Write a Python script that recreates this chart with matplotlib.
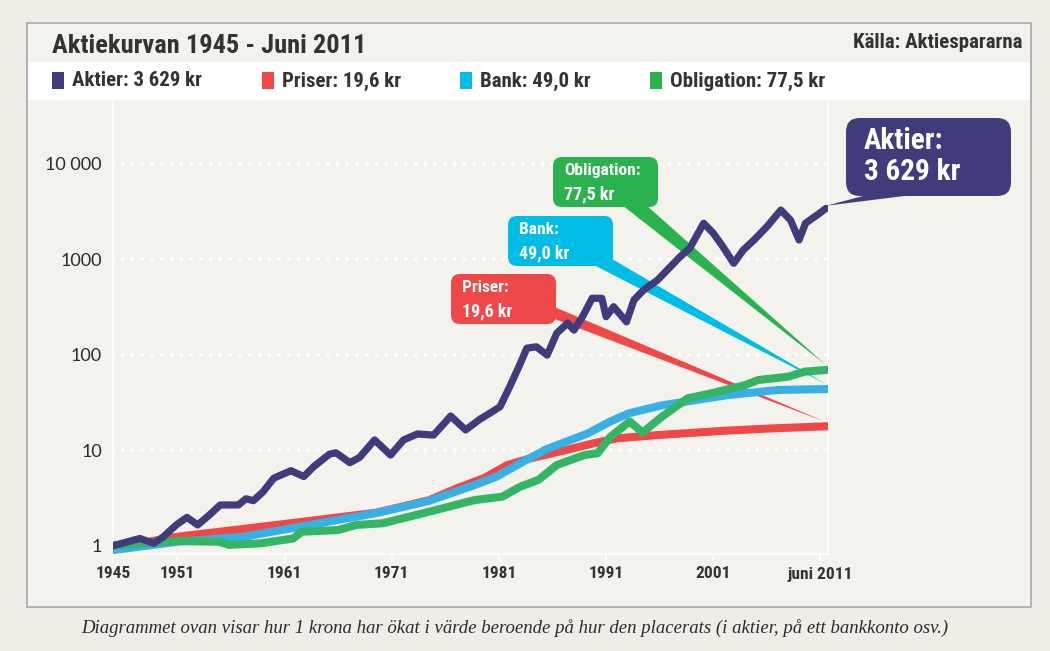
import matplotlib
matplotlib.use('Agg')
import matplotlib.pyplot as plt
from matplotlib import font_manager as fm
from matplotlib.patches import Rectangle, FancyBboxPatch, Polygon

# Data (value of 1 krona invested 1945)
aktier_years = [1945.0, 1947.5, 1948.8, 1949.7, 1950.9, 1951.9, 1952.9, 1954.0, 1955.0, 1956.7,
                1957.4, 1958.1, 1959.0, 1960.0, 1961.6, 1962.8, 1963.7, 1965.2, 1965.8, 1967.1,
                1968.0, 1969.4, 1970.9, 1972.1, 1973.4, 1974.9, 1975.9, 1976.5, 1977.9, 1979.2,
                1980.3, 1981.1, 1982.0, 1983.0, 1983.6, 1984.5, 1985.5, 1986.4, 1987.4, 1988.0,
                1988.8, 1989.7, 1990.6, 1991.0, 1991.7, 1992.9, 1993.6, 1994.5, 1995.8, 1996.7,
                1997.9, 1998.8, 2000.1, 2001.0, 2001.9, 2002.9, 2003.8, 2004.8, 2006.0, 2007.3,
                2008.2, 2009.0, 2009.6, 2010.9, 2011.5]
aktier = [1.0, 1.19, 1.06, 1.24, 1.65, 1.98, 1.65, 2.1, 2.67, 2.67,
          3.1, 2.96, 3.67, 5.1, 6.1, 5.3, 6.7, 9.1, 9.4, 7.4,
          8.4, 12.8, 8.9, 12.8, 14.8, 14.4, 19.1, 22.8, 16.3, 21,
          25, 28.5, 46, 81, 117, 121, 99, 168, 214, 181,
          250, 390, 390, 250, 318, 221, 374, 475, 605, 770,
          1060, 1300, 2380, 1870, 1350, 906, 1250, 1590, 2190, 3270,
          2570, 1590, 2380, 3020, 3400]

priser_years = [1945.0, 1951.0, 1957.2, 1963.4, 1969.6, 1974.5, 1977.1, 1979.6, 1981.8,
                1983.9, 1987.2, 1989.8, 1992.0, 1995.8, 2002.1, 2006.4, 2011.5]
priser = [0.95, 1.24, 1.5, 1.82, 2.22, 3.0, 4.0, 5.1, 7.0,
          8.2, 10.0, 11.8, 13.3, 14.4, 16.0, 16.9, 17.8]

bank_years = [1945.0, 1951.0, 1957.2, 1963.4, 1969.6, 1974.5, 1978.7, 1980.8, 1983.0,
              1985.4, 1989.3, 1991.4, 1993.1, 1996.2, 2002.4, 2007.0, 2011.5]
bank = [0.9, 1.1, 1.24, 1.65, 2.2, 2.95, 4.3, 5.3, 7.3,
        10.2, 15, 20, 24.3, 29.5, 37.8, 42.7, 43.7]

oblig_years = [1945.0, 1951.0, 1954.9, 1955.8, 1958.8, 1961.8, 1962.6, 1966.0, 1967.7, 1970.2,
               1974.5, 1978.7, 1981.3, 1983.0, 1984.7, 1986.4, 1989.0, 1990.2, 1991.4, 1993.2,
               1994.4, 1996.2, 1998.6, 2000.8, 2004.0, 2005.2, 2008.0, 2009.5, 2011.5]
oblig = [1.0, 1.12, 1.1, 1.02, 1.06, 1.19, 1.4, 1.46, 1.65, 1.72,
         2.27, 3.0, 3.26, 4.15, 4.9, 7.0, 8.9, 9.3, 13.8, 20,
         15.3, 22.4, 34.9, 39.4, 48.2, 54.3, 58.9, 66.4, 69.2]

# final values shown in legend / callouts
final_values = {'Aktier': 3629, 'Priser': 19.6, 'Bank': 49.0, 'Obligation': 77.5}
legend_labels = ['Aktier: 3 629 kr', 'Priser: 19,6 kr', 'Bank: 49,0 kr', 'Obligation: 77,5 kr']

xtick_pos = [1945, 1951, 1961, 1971, 1981, 1991, 2001, 2011]
xtick_labels = ['1945', '1951', '1961', '1971', '1981', '1991', '2001', 'juni 2011']
ytick_pos = [1, 10, 100, 1000, 10000]
ytick_labels = ['1', '10', '100', '1000', '10 000']

# colours
c_aktier = '#403c7c'
c_priser = '#ee4848'
c_bank = '#38b0e4'
c_oblig = '#34b566'
c_bank_box = '#00bde6'
c_oblig_box = '#2ab24f'
c_text = '#333333'


def pick_font(*names):
    for n in names:
        try:
            fm.findfont(fm.FontProperties(family=n), fallback_to_default=False)
            return n
        except ValueError:
            pass
    return 'DejaVu Sans'


narrow = pick_font('Liberation Sans Narrow', 'Roboto Condensed', 'Roboto')
humanist = pick_font('Lato', 'Open Sans', 'DejaVu Sans')
serif = pick_font('Liberation Serif', 'DejaVu Serif')

W, H = 1050, 651
fig = plt.figure(figsize=(W / 100, H / 100), dpi=100)
fig.patch.set_facecolor('#efede6')

# background decoration in pixel coordinates
deco = fig.add_axes([0, 0, 1, 1], zorder=0)
deco.set_xlim(0, W)
deco.set_ylim(H, 0)
deco.axis('off')
deco.add_patch(Rectangle((27, 23), 1004, 584, facecolor='#f4f2ec', edgecolor='#a8a8a8', lw=1.2))
deco.add_patch(Rectangle((28, 62), 1002, 38, facecolor='white', edgecolor='none'))

deco.text(52, 46, 'Aktiekurvan 1945 - Juni 2011', family=narrow, weight='bold',
          fontsize=19, color=c_text, va='center', ha='left')
deco.text(1022, 42, 'Källa: Aktiespararna', family=narrow, weight='bold',
          fontsize=15, color=c_text, va='center', ha='right')

legend_x = [52, 262, 460, 650]
legend_cols = [c_aktier, c_priser, c_bank_box, c_oblig_box]
for lx, lab, col in zip(legend_x, legend_labels, legend_cols):
    deco.add_patch(Rectangle((lx, 72), 12, 17, facecolor=col, edgecolor='none'))
    deco.text(lx + 20, 81, lab, family=narrow, weight='bold', fontsize=15, color=c_text,
              va='center', ha='left')

deco.text(515, 628, 'Diagrammet ovan visar hur 1 krona har ökat i värde beroende på hur den '
          'placerats (i aktier, på ett bankkonto osv.)', family=serif, style='italic',
          fontsize=13.5, color='#2a2a2a', ha='center', va='center')

# main chart
ax = fig.add_axes([113 / W, 97 / H, 715 / W, 454 / H], zorder=1)
ax.patch.set_alpha(0)
ax.set_yscale('log')
ax.set_xlim(1945, 2011.7)
ax.set_ylim(0.8187, 46450)

for g in [10, 100, 1000, 10000]:
    ax.axhline(g, color='white', lw=2.8, linestyle=(0, (0.01, 2.5)),
               dash_capstyle='round', zorder=1)

ax.plot(priser_years, priser, color=c_priser, lw=5.8, solid_joinstyle='round', zorder=3)
ax.plot(bank_years, bank, color=c_bank, lw=5.8, solid_joinstyle='round', zorder=4)
ax.plot(oblig_years, oblig, color=c_oblig, lw=5.8, solid_joinstyle='round', zorder=5)
ax.plot(aktier_years, aktier, color=c_aktier, lw=5.2, solid_joinstyle='round',
        solid_capstyle='round', zorder=6)

ax.spines['top'].set_visible(False)
for s in ['left', 'right', 'bottom']:
    ax.spines[s].set_color('white')
    ax.spines[s].set_linewidth(1.3)

ax.set_xticks(xtick_pos)
ax.set_xticklabels(xtick_labels, family=narrow, weight='bold', fontsize=12.5, color=c_text)
ax.tick_params(axis='x', colors='white', length=5, width=1.2, pad=4, labelcolor=c_text)
ax.set_yticks(ytick_pos)
ax.set_yticklabels(ytick_labels, family=humanist, fontsize=13, color='#2a2a2a')
ax.yaxis.set_minor_locator(matplotlib.ticker.NullLocator())
ax.tick_params(axis='y', length=0, pad=8)

# pixel transform for callouts (same as deco data coordinates)
px = deco.transData


def data_to_px(x, y):
    dx, dy = ax.transData.transform((x, y))
    return deco.transData.inverted().transform((dx, dy))


end_year = 2011.55
callouts = [
    # label, value text, box (x, y, w, h), wedge base, colour, final key
    ('Obligation:', '77,5 kr', (553, 157, 105, 50), [(622, 205), (646, 205)], c_oblig_box, 'Obligation'),
    ('Bank:', '49,0 kr', (508, 216, 105, 50), [(590, 263), (612, 259)], c_bank_box, 'Bank'),
    ('Priser:', '19,6 kr', (451, 274, 105, 50), [(552, 306), (552, 318)], c_priser, 'Priser'),
]
for title, val, (bx, by, bw, bh), base, col, key in callouts:
    tip = data_to_px(end_year, final_values[key])
    ax.add_patch(Polygon([base[0], base[1], tuple(tip)], closed=True, facecolor=col,
                         edgecolor='none', transform=px, clip_on=False, zorder=2))
    ax.add_patch(FancyBboxPatch((bx, by), bw, bh, boxstyle='round,pad=0,rounding_size=9',
                                facecolor=col, edgecolor='none', transform=px,
                                clip_on=False, zorder=7))
    ax.text(bx + 11, by + 14, title, family=narrow, weight='bold', fontsize=12.5,
            color='white', transform=px, va='center', ha='left', zorder=8)
    ax.text(bx + 11, by + 37, val, family=narrow, weight='bold', fontsize=13,
            color='white', transform=px, va='center', ha='left', zorder=8)

# Aktier callout (outside the plot area)
tip = data_to_px(end_year, final_values['Aktier'])
ax.add_patch(Polygon([(878, 192), (936, 192), tuple(tip)], closed=True, facecolor=c_aktier,
                     edgecolor='none', transform=px, clip_on=False, zorder=7))
ax.add_patch(FancyBboxPatch((846, 118), 165, 78, boxstyle='round,pad=0,rounding_size=14',
                            facecolor=c_aktier, edgecolor='none', transform=px,
                            clip_on=False, zorder=7))
ax.text(864, 141, 'Aktier:', family=narrow, weight='bold', fontsize=21, color='white',
        transform=px, va='center', ha='left', zorder=8)
ax.text(864, 172, '3 629 kr', family=narrow, weight='bold', fontsize=21, color='white',
        transform=px, va='center', ha='left', zorder=8)

fig.savefig('out.png', dpi=100, facecolor=fig.get_facecolor())
